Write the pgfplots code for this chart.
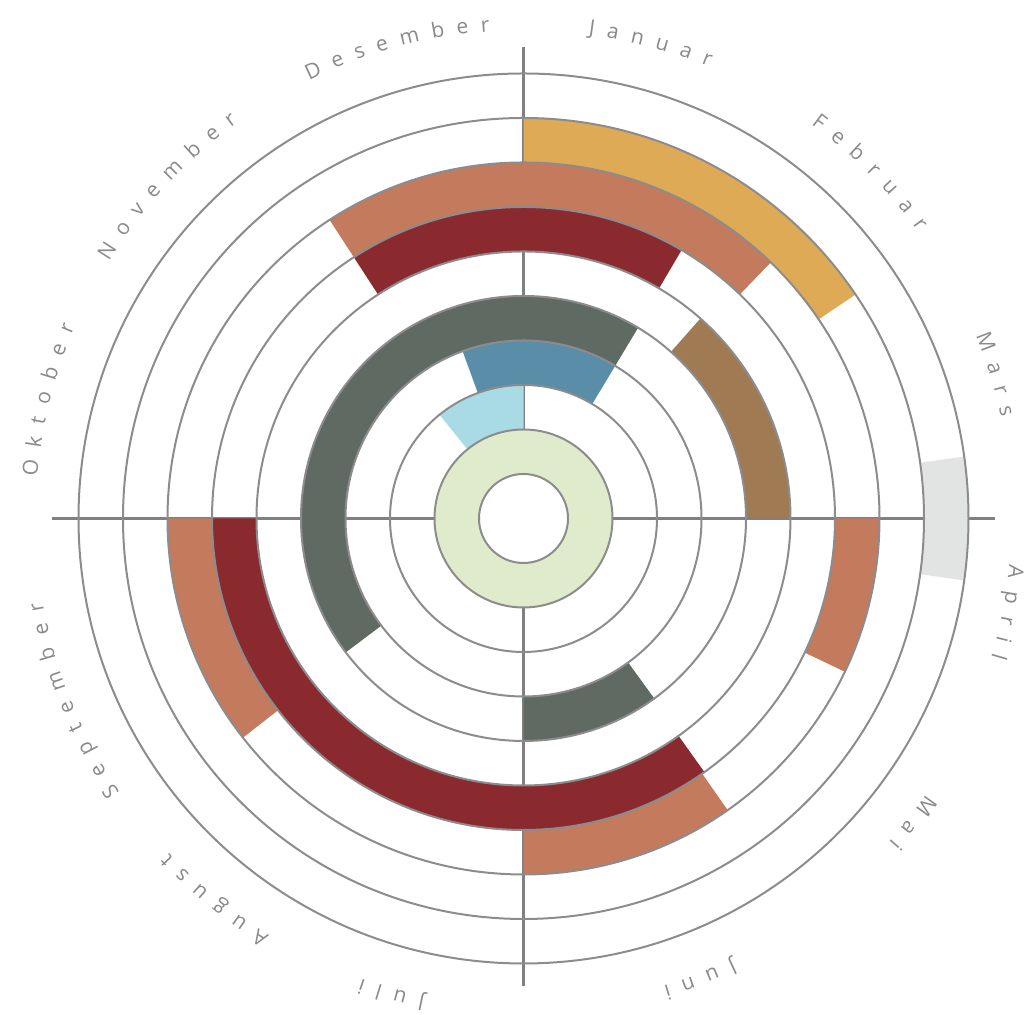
\documentclass[border=0pt]{standalone}
\usepackage{pgfplots}
\pgfplotsset{compat=1.18}
\usepackage{pgfplotstable}
\usepackage{fontspec}
\usetikzlibrary{decorations.text}
\newfontfamily\monthfont{Open Sans}
\definecolor{cgreen}{HTML}{E0EBCB}
\definecolor{clblue}{HTML}{A8DBE4}
\definecolor{csblue}{HTML}{5A8DA8}
\definecolor{cdgray}{HTML}{5F6A62}
\definecolor{cbrown}{HTML}{A07A52}
\definecolor{cdred}{HTML}{8A2A2E}
\definecolor{csalmon}{HTML}{C47A5C}
\definecolor{cyellow}{HTML}{DEAA55}
\definecolor{clgray}{HTML}{E2E4E4}
\definecolor{gridgray}{HTML}{8C8C8E}
\definecolor{axisgray}{HTML}{808082}
\definecolor{labelgray}{HTML}{8A8A8A}
\newcommand\mfont{\fontsize{10.5}{12}\monthfont\fontdimen2\font=6.2pt\relax\color{labelgray}}

% segments: start / end angle (degrees clockwise from top), inner / outer radius
\pgfplotstableread{
a1 a2 ri ro
0 360 44.5 89
}\tgreen
\pgfplotstableread{
a1 a2 ri ro
321 360 89 133.5
}\tlblue
\pgfplotstableread{
a1 a2 ri ro
340 391 133.5 178
}\tsblue
\pgfplotstableread{
a1 a2 ri ro
233 391 178 222.5
144 180 178 222.5
}\tdgray
\pgfplotstableread{
a1 a2 ri ro
41.5 90 222.5 267
}\tbrown
\pgfplotstableread{
a1 a2 ri ro
327 390.5 267 311.5
144.5 270 267 311.5
}\tdred
\pgfplotstableread{
a1 a2 ri ro
327 404 311.5 356
90 115.5 311.5 356
145 180 311.5 356
232 270 311.5 356
}\tsalmon
\pgfplotstableread{
a1 a2 ri ro
0 56 356 400.5
}\tyellow
\pgfplotstableread{
a1 a2 ri ro
82 98 400.5 445
}\tlgray
\pgfplotstableread{
x r
0 89
0 133.5
0 178
0 222.5
0 267
0 311.5
0 356
0 400.5
0 445
}\tcircles
\pgfplotstableread{
x r
0 44.5
}\tcenter

\pgfplotsset{
  sector/.style={only marks, scatter, mark=*, mark size=0pt,
    mark options={draw=none,fill=none},
    visualization depends on={\thisrow{a1} \as \aone},
    visualization depends on={\thisrow{a2} \as \atwo},
    visualization depends on={\thisrow{ri} \as \rin},
    visualization depends on={\thisrow{ro} \as \rout},
    scatter/@pre marker code/.code={%
      \pgfkeys{/pgf/fpu=false}%
      \path[fill=#1, draw=none] (0pt,0pt)
        arc[start angle={90-\aone}, end angle={90-\atwo}, radius={\rout*0.5pt}]
        -- ++({270-\atwo}:{(\rout-\rin)*0.5pt})
        arc[start angle={90-\atwo}, end angle={90-\aone}, radius={\rin*0.5pt}] -- cycle;
    },
    scatter/@post marker code/.code={},
  },
  ringline/.style={only marks, scatter, mark=*, mark size=0pt,
    mark options={draw=none,fill=none},
    visualization depends on={\thisrow{r} \as \rr},
    scatter/@pre marker code/.code={%
      \pgfkeys{/pgf/fpu=false}%
      \path[draw=gridgray, line width=1pt, #1] (0pt,0pt)
        arc[start angle=90, end angle=-270, radius={\rr*0.5pt}] -- cycle;
    },
    scatter/@post marker code/.code={},
  },
}

\newcommand\monthlabel[2]{%
  \pgfmathsetmacro\sa{90-#1+16}\pgfmathsetmacro\ea{90-#1-16}%
  \path[decorate, decoration={text along path, text={|\mfont|#2}, text align=center}]
    ([shift={(\sa:244pt)}]O) arc[start angle=\sa, end angle=\ea, radius=244pt];
}

\begin{document}
\begin{tikzpicture}
\begin{axis}[
  x=0.5pt, y=0.5pt,
  xmin=-471, xmax=471, ymin=-471, ymax=471,
  hide axis, clip=false,
]
\addplot[sector=cgreen] table[x expr={\thisrow{ro}*sin(\thisrow{a1})}, y expr={\thisrow{ro}*cos(\thisrow{a1})}] {\tgreen};
\addplot[sector=clblue] table[x expr={\thisrow{ro}*sin(\thisrow{a1})}, y expr={\thisrow{ro}*cos(\thisrow{a1})}] {\tlblue};
\addplot[sector=csblue] table[x expr={\thisrow{ro}*sin(\thisrow{a1})}, y expr={\thisrow{ro}*cos(\thisrow{a1})}] {\tsblue};
\addplot[sector=cdgray] table[x expr={\thisrow{ro}*sin(\thisrow{a1})}, y expr={\thisrow{ro}*cos(\thisrow{a1})}] {\tdgray};
\addplot[sector=cbrown] table[x expr={\thisrow{ro}*sin(\thisrow{a1})}, y expr={\thisrow{ro}*cos(\thisrow{a1})}] {\tbrown};
\addplot[sector=cdred] table[x expr={\thisrow{ro}*sin(\thisrow{a1})}, y expr={\thisrow{ro}*cos(\thisrow{a1})}] {\tdred};
\addplot[sector=csalmon] table[x expr={\thisrow{ro}*sin(\thisrow{a1})}, y expr={\thisrow{ro}*cos(\thisrow{a1})}] {\tsalmon};
\addplot[sector=cyellow] table[x expr={\thisrow{ro}*sin(\thisrow{a1})}, y expr={\thisrow{ro}*cos(\thisrow{a1})}] {\tyellow};
\addplot[sector=clgray] table[x expr={\thisrow{ro}*sin(\thisrow{a1})}, y expr={\thisrow{ro}*cos(\thisrow{a1})}] {\tlgray};
% cross lines
\addplot[axisgray, line width=1.5pt, mark=none] coordinates {(-471,0) (471,0)};
\addplot[axisgray, line width=1.5pt, mark=none] coordinates {(0,-468) (0,471)};
% rings
\addplot[ringline={}] table[x=x, y=r] {\tcircles};
\addplot[ringline={fill=white}] table[x=x, y=r] {\tcenter};
\coordinate (O) at (axis cs:0,0);
\end{axis}
\monthlabel{15}{J a n u a r}
\monthlabel{45}{F e b r u a r}
\monthlabel{73}{M a r s}
\monthlabel{101}{A p r i l}
\monthlabel{128}{M a i}
\monthlabel{159}{J u n i}
\monthlabel{195.5}{J u l i}
\monthlabel{219}{A u g u s t}
\monthlabel{248}{S e p t e m b e r}
\monthlabel{284}{O k t o b e r}
\monthlabel{313}{N o v e m b e r}
\monthlabel{345}{D e s e m b e r}
\pgfresetboundingbox
\path[use as bounding box] ([shift={(-261.75pt,-248.25pt)}]O) rectangle ([shift={(253.25pt,259.25pt)}]O);
\end{tikzpicture}
\end{document}
